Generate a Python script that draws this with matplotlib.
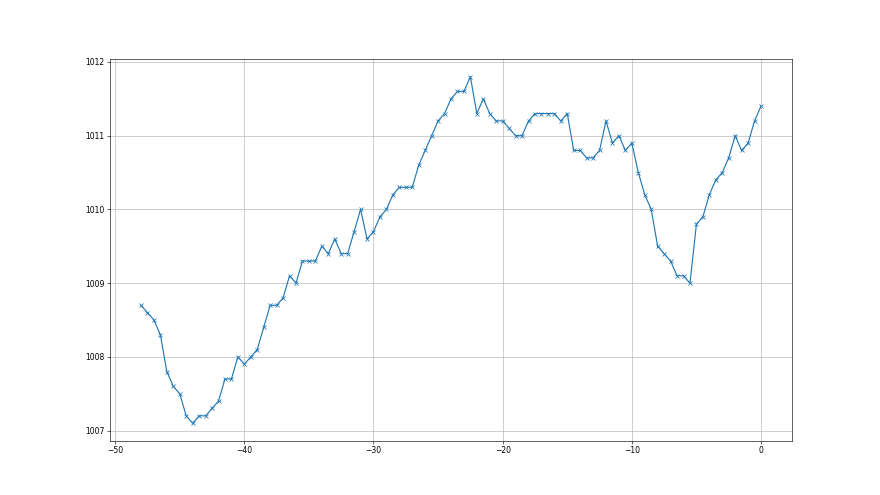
import numpy as np
import matplotlib
matplotlib.use("Agg")
import matplotlib.pyplot as plt

# hours relative to now, half-hour steps
hours = np.arange(-48, 0.5, 0.5)

pressure = [
    1008.7, 1008.6, 1008.5, 1008.3, 1007.8, 1007.6, 1007.5, 1007.2, 1007.1, 1007.2,
    1007.2, 1007.3, 1007.4, 1007.7, 1007.7, 1008.0, 1007.9, 1008.0, 1008.1, 1008.4,
    1008.7, 1008.7, 1008.8, 1009.1, 1009.0, 1009.3, 1009.3, 1009.3, 1009.5, 1009.4,
    1009.6, 1009.4, 1009.4, 1009.7, 1010.0, 1009.6, 1009.7, 1009.9, 1010.0, 1010.2,
    1010.3, 1010.3, 1010.3, 1010.6, 1010.8, 1011.0, 1011.2, 1011.3, 1011.5, 1011.6,
    1011.6, 1011.8, 1011.3, 1011.5, 1011.3, 1011.2, 1011.2, 1011.1, 1011.0, 1011.0,
    1011.2, 1011.3, 1011.3, 1011.3, 1011.3, 1011.2, 1011.3, 1010.8, 1010.8, 1010.7,
    1010.7, 1010.8, 1011.2, 1010.9, 1011.0, 1010.8, 1010.9, 1010.5, 1010.2, 1010.0,
    1009.5, 1009.4, 1009.3, 1009.1, 1009.1, 1009.0, 1009.8, 1009.9, 1010.2, 1010.4,
    1010.5, 1010.7, 1011.0, 1010.8, 1010.9, 1011.2, 1011.4,
]

fig = plt.figure(figsize=(16, 9), dpi=55)
ax = fig.add_subplot(111)
ax.plot(hours, pressure, marker='x')
ax.grid(True)

fig.savefig("out.png", dpi=55)
